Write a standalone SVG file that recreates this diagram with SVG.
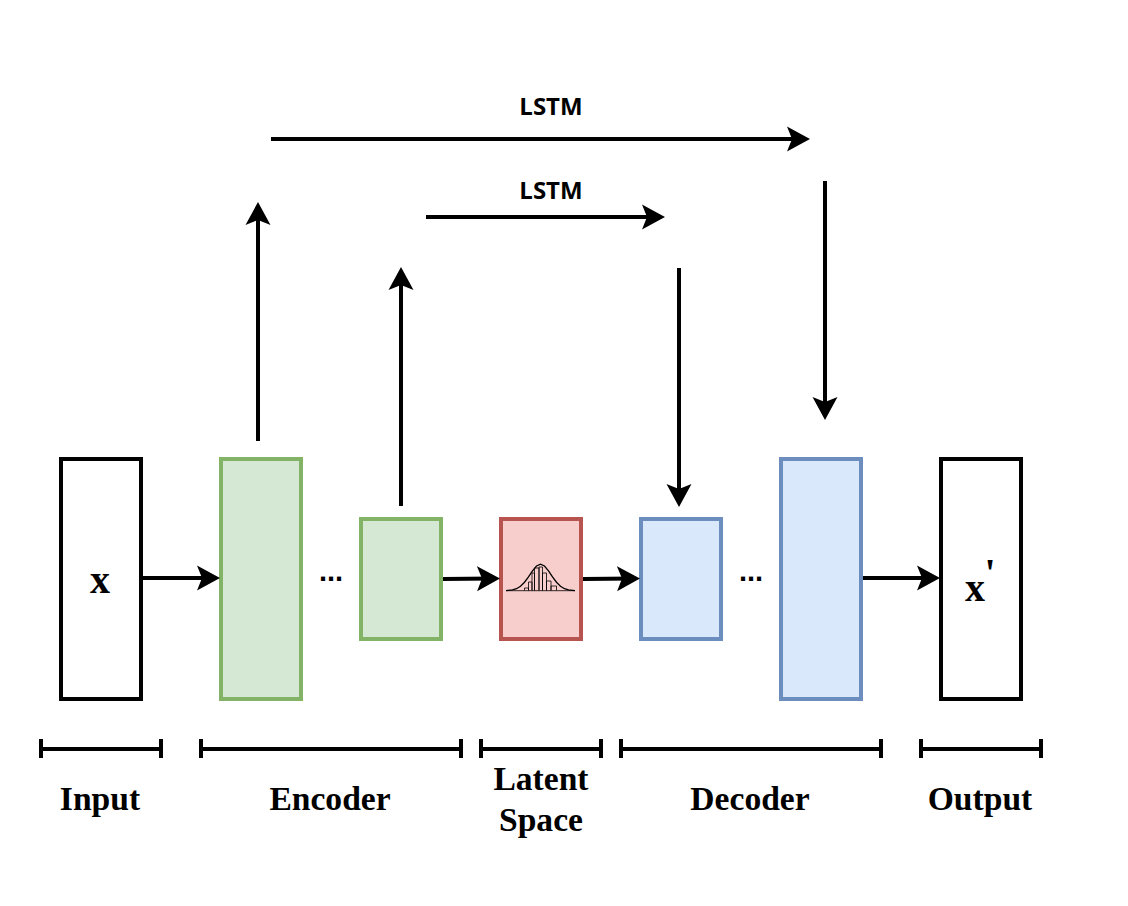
<svg xmlns="http://www.w3.org/2000/svg" width="1128" height="906" viewBox="0 0 1128 906">
<defs>
<marker id="arr" markerUnits="userSpaceOnUse" markerWidth="26" markerHeight="27" refX="17" refY="13" orient="auto"><path d="M0,0.500 L23,13 L0,25.500 L5,13 Z" fill="#000"/></marker>
</defs>
<style>
.box{stroke-width:4}
.plain{fill:#fff;stroke:#000}
.green{fill:#d5e8d4;stroke:#82b366}
.red{fill:#f8cecc;stroke:#b85450}
.blue{fill:#dae8fc;stroke:#6c8ebf}
.conn{stroke:#000;stroke-width:4;fill:none;marker-end:url(#arr)}
.br{stroke:#000;stroke-width:4;fill:none}
.lab{font-family:"Liberation Serif",serif;font-weight:bold;font-size:33.6px;fill:#000;text-anchor:middle}
.big{font-size:40px}
.lstm{font-family:"Open Sans","Noto Sans",sans-serif;font-weight:bold;font-size:24px;fill:#000;text-anchor:middle}
.dots{font-family:"Liberation Sans",sans-serif;font-weight:bold;font-size:29px;fill:#000;text-anchor:middle}
.bell{fill:none;stroke:#000;stroke-width:1.3}
.bars{fill:none;stroke:#000;stroke-width:1;opacity:.8}
</style>
<g id="input"><rect class="box plain" x="61" y="459" width="80" height="240"/><text class="lab big" x="100" y="593">x</text></g>
<g id="enc1"><rect class="box green" x="221" y="459" width="80" height="240"/></g>
<g id="enc2"><rect class="box green" x="361" y="519" width="80" height="120"/></g>
<g id="latent"><rect class="box red" x="501" y="519" width="80" height="120"/>
<path class="bars" d="M524.500,590.500V588H528.500V590.500 M528.500,590.500V582H532V590.500 M532,590.500V573H534.500V590.500 M534.500,590.500V568H539V590.500 M539,590.500V567H542.500V590.500 M542.500,590.500V573H546.500V590.500 M546.500,590.500V581H551V590.500 M551,590.500V586H556.500V590.500"/>
<path class="bell" d="M506,590.600 L512.500,589.900 L516.500,588.700 L520.500,586.200 L524.500,582.200 L528.500,576.800 L532.500,570.800 L536.500,566 L540.500,564.200 L544.500,566 L548.500,570.800 L552.500,576.800 L556.500,582.200 L560.500,586.200 L564.500,588.700 L568.500,589.900 L575,590.600"/>
<line class="bars" x1="506" y1="590.700" x2="575" y2="590.700"/>
</g>
<g id="dec1"><rect class="box blue" x="641" y="519" width="80" height="120"/></g>
<g id="dec2"><rect class="box blue" x="781" y="459" width="80" height="240"/></g>
<g id="output"><rect class="box plain" x="941" y="459" width="80" height="240"/><text class="lab big" x="975" y="601">x</text><text class="lab big" x="990" y="586">'</text></g>
<g id="connectors">
<line class="conn" x1="141" y1="578" x2="214" y2="578"/>
<line class="conn" x1="443" y1="579" x2="494" y2="578.500"/>
<line class="conn" x1="583" y1="579" x2="634" y2="578.500"/>
<line class="conn" x1="863" y1="578" x2="934" y2="578"/>
<line class="conn" x1="258" y1="441" x2="258" y2="208"/>
<line class="conn" x1="401" y1="506" x2="401" y2="273"/>
<line class="conn" x1="271" y1="139" x2="804" y2="139"/>
<line class="conn" x1="426" y1="217" x2="659" y2="217"/>
<line class="conn" x1="679" y1="268" x2="679" y2="501"/>
<line class="conn" x1="825" y1="181" x2="825" y2="414"/>
</g>
<g id="brackets">
<path class="br" d="M41,739V758M41,749H161M161,739V758"/>
<path class="br" d="M201,739V758M201,749H461M461,739V758"/>
<path class="br" d="M481,739V758M481,749H601M601,739V758"/>
<path class="br" d="M621,739V758M621,749H881M881,739V758"/>
<path class="br" d="M921,739V758M921,749H1041M1041,739V758"/>
</g>
<text class="dots" x="331" y="581">...</text>
<text class="dots" x="751" y="581">...</text>
<text class="lstm" x="551" y="115">LSTM</text>
<text class="lstm" x="551" y="199">LSTM</text>
<text class="lab" x="100" y="810">Input</text>
<text class="lab" x="330" y="810">Encoder</text>
<text class="lab" x="541" y="790">Latent</text>
<text class="lab" x="541" y="831">Space</text>
<text class="lab" x="750" y="810">Decoder</text>
<text class="lab" x="980" y="810">Output</text>
</svg>
